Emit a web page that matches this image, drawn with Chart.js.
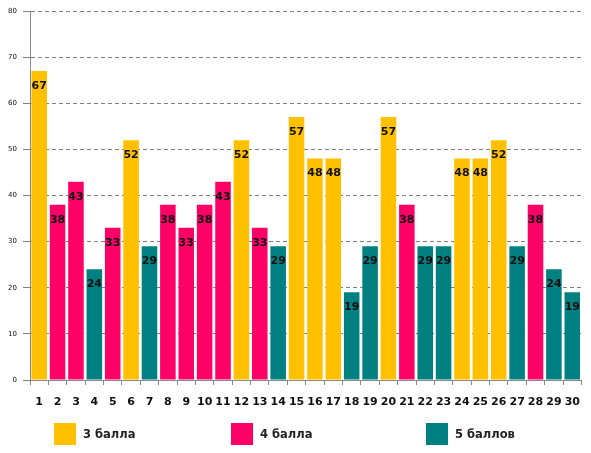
<!DOCTYPE html>
<html lang="ru">
  <head>
    <meta charset="UTF-8" />
    <title>Баллы</title>
    <script src="https://cdn.jsdelivr.net/npm/chart.js"></script>
    <style>
      body {
        margin: 0;
        background: #fff;
      }
      #wrap {
        position: relative;
        width: 591px;
        height: 453px;
      }
      .legend-item {
        position: absolute;
        top: 423px;
        display: flex;
        align-items: center;
        font: bold 11.5px "DejaVu Sans", sans-serif;
        color: #222;
      }
      .legend-item span.box {
        display: inline-block;
        width: 22px;
        height: 22px;
        margin-right: 7px;
      }
    </style>
  </head>
  <body>
    <div id="wrap">
      <canvas id="myChart" width="591" height="453"></canvas>
    </div>

    <script>
      // номера заданий, баллы и группа (3, 4 или 5 баллов)
      const labels = [
        "1", "2", "3", "4", "5", "6", "7", "8", "9", "10",
        "11", "12", "13", "14", "15", "16", "17", "18", "19", "20",
        "21", "22", "23", "24", "25", "26", "27", "28", "29", "30",
      ];
      const values = [
        67, 38, 43, 24, 33, 52, 29, 38, 33, 38,
        43, 52, 33, 29, 57, 48, 48, 19, 29, 57,
        38, 29, 29, 48, 48, 52, 29, 38, 24, 19,
      ];
      const grades = [
        3, 4, 4, 5, 4, 3, 5, 4, 4, 4,
        4, 3, 4, 5, 3, 3, 3, 5, 5, 3,
        4, 5, 5, 3, 3, 3, 5, 4, 5, 5,
      ];
      const yTicks = [0, 10, 20, 30, 40, 50, 60, 70, 80];
      const legendNames = ["3 балла", "4 балла", "5 баллов"];
      const legendGrades = [3, 4, 5];

      const colors = { 3: "#FFC000", 4: "#FF0066", 5: "#008080" };

      // подписи значений внутри столбцов
      const valueLabels = {
        id: "valueLabels",
        afterDatasetsDraw(chart) {
          const ctx = chart.ctx;
          const meta = chart.getDatasetMeta(0);
          ctx.save();
          ctx.font = "bold 11px 'DejaVu Sans', sans-serif";
          ctx.fillStyle = "#111";
          ctx.textAlign = "center";
          ctx.textBaseline = "middle";
          meta.data.forEach((bar, i) => {
            ctx.fillText(values[i], bar.x, bar.y + 15);
          });
          ctx.restore();
        },
      };

      new Chart(document.getElementById("myChart"), {
        type: "bar",
        data: {
          labels: labels,
          datasets: [
            {
              data: values,
              backgroundColor: grades.map((g) => colors[g]),
              borderWidth: 0,
              barPercentage: 0.9,
              categoryPercentage: 0.94,
            },
          ],
        },
        options: {
          responsive: false,
          animation: false,
          layout: { padding: { top: 11, right: 4, left: 0, bottom: 0 } },
          plugins: {
            legend: { display: false },
            tooltip: { enabled: false },
          },
          scales: {
            x: {
              grid: {
                drawOnChartArea: false,
                tickLength: 5,
                color: "#888",
              },
              border: { color: "#888" },
              ticks: {
                color: "#111",
                font: { family: "DejaVu Sans", size: 11, weight: "bold" },
                padding: 11,
                maxRotation: 0,
                autoSkip: false,
              },
              afterFit(scale) {
                scale.height = 73;
              },
            },
            y: {
              min: 0,
              max: 80,
              afterBuildTicks(scale) {
                scale.ticks = yTicks.map((v) => ({ value: v }));
              },
              grid: {
                color: "#808080",
                tickLength: 7,
              },
              border: { color: "#888", dash: [4, 3] },
              ticks: {
                color: "#111",
                font: { family: "DejaVu Sans", size: 7 },
                padding: 6,
              },
              afterFit(scale) {
                scale.width = 30;
              },
            },
          },
        },
        plugins: [valueLabels],
      });

      // легенда
      const legendLeft = [54, 231, 426];
      const wrap = document.getElementById("wrap");
      legendNames.forEach((name, i) => {
        const item = document.createElement("div");
        item.className = "legend-item";
        item.style.left = legendLeft[i] + "px";
        const box = document.createElement("span");
        box.className = "box";
        box.style.background = colors[legendGrades[i]];
        item.appendChild(box);
        item.appendChild(document.createTextNode(name));
        wrap.appendChild(item);
      });
    </script>
  </body>
</html>
